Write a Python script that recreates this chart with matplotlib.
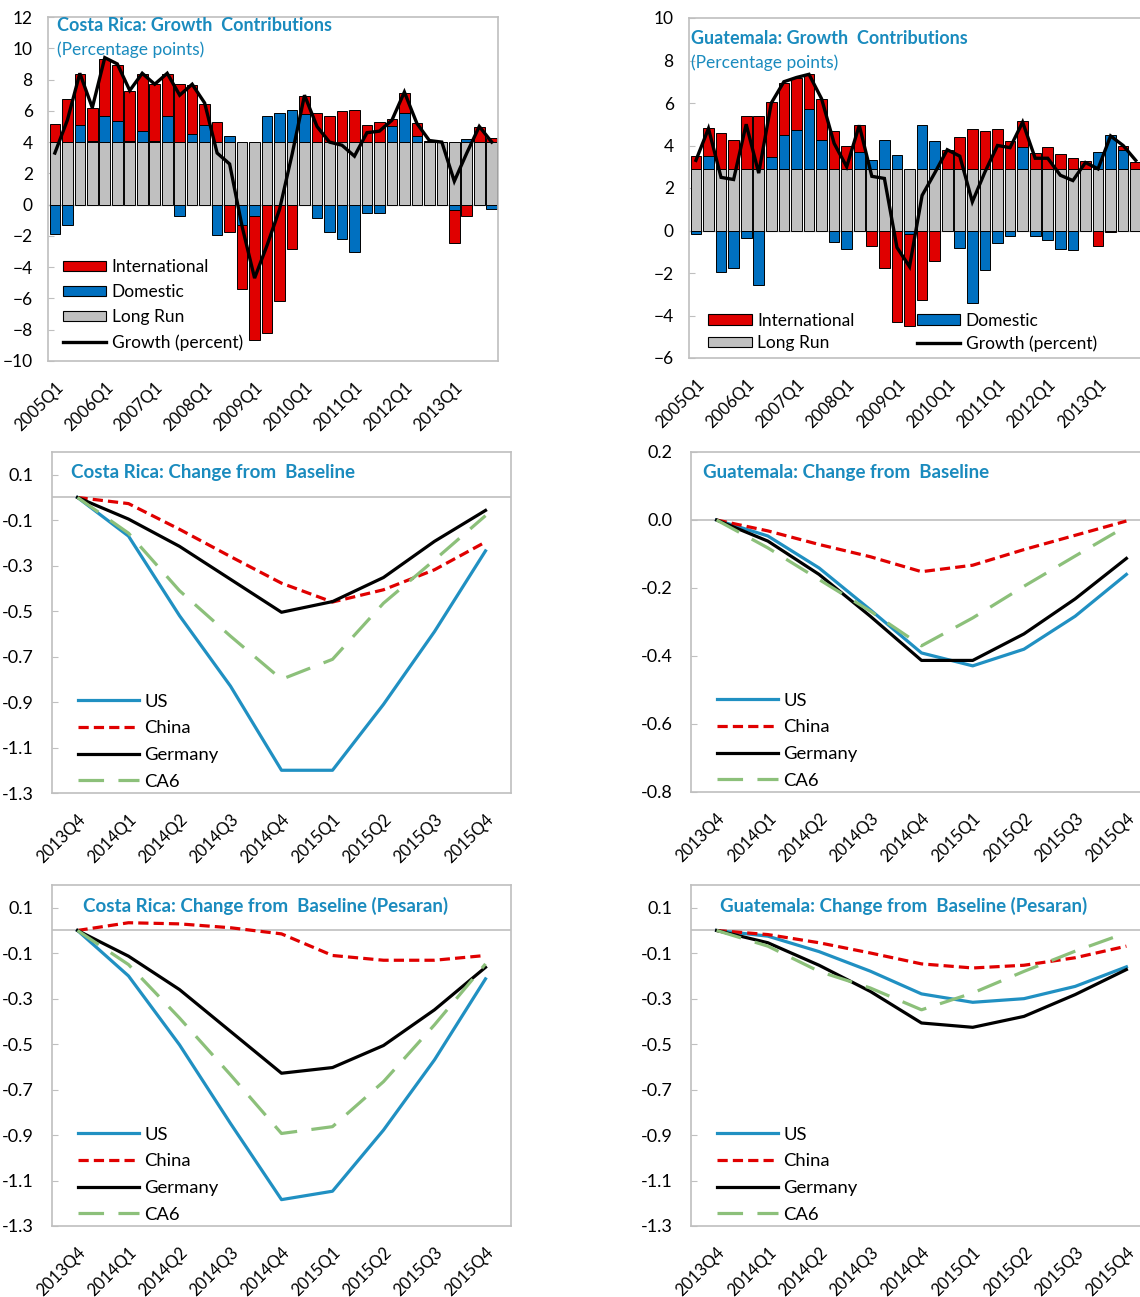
import matplotlib
matplotlib.use("Agg")
import matplotlib.pyplot as plt
from matplotlib.patches import Patch
from matplotlib.lines import Line2D
import numpy as np

plt.rcParams['font.family'] = ['Lato', 'DejaVu Sans']

W, H = 1140, 1297

# ---- growth contributions data (2005Q1 .. 2013Q4) ----
quarters = [f"{y}Q{q}" for y in range(2005, 2014) for q in range(1, 5)]

cr_long_run = 4.0
cr_domestic = [-1.9, -1.3, 1.1, 0.05, 1.7, 1.34, 0.05, 0.68, 0.08, 1.7, -0.7, 0.49,
               1.09, -1.96, 0.36, -1.3, -0.71, 1.64, 1.85, 2.07, 1.8, -0.86, -1.72, -2.2,
               -3.0, -0.54, -0.54, 1.0, 1.85, 0.36, -0.05, -0.05, -0.35, 0.2, 0.0, -0.26]
cr_international = [1.13, 2.73, 3.23, 2.1, 3.64, 3.6, 3.2, 3.7, 3.66, 2.68, 3.74, 3.18,
                    1.36, 1.28, -1.78, -4.08, -7.94, -8.2, -6.17, -2.86, 1.12, 1.85, 1.7, 1.96,
                    2.07, 1.1, 1.26, 0.45, 1.29, 0.85, 0.1, 0.03, -2.1, -0.75, 0.96, 0.27]
cr_growth = [3.3, 5.4, 8.4, 6.2, 9.4, 9.0, 7.3, 8.4, 7.7, 8.4, 7.0, 7.7,
             6.5, 3.3, 2.6, -1.4, -4.7, -2.6, -0.3, 3.2, 7.0, 5.0, 4.0, 3.8,
             3.1, 4.6, 4.7, 5.4, 7.2, 5.2, 4.1, 4.0, 1.5, 3.3, 5.0, 4.0]

gt_long_run = 2.88
gt_domestic = [-0.16, 0.62, -1.97, -1.76, -0.36, -2.57, 0.56, 1.61, 1.87, 2.84, 1.36, -0.52,
               -0.87, 0.81, 0.44, 1.36, 0.66, -0.15, 2.07, 1.32, 0.0, -0.82, -3.4, -1.84,
               -0.6, -0.28, 1.03, -0.28, -0.47, -0.87, -0.94, 0.0, 0.81, 1.63, 0.92, 0.0]
gt_international = [0.61, 1.34, 1.69, 1.36, 2.52, 2.52, 2.61, 2.47, 2.44, 1.64, 1.96, 1.8,
                     1.1, 1.29, -0.74, -1.76, -4.3, -4.34, -3.26, -1.45, 0.92, 1.5, 1.9, 1.8,
                     1.88, 1.33, 1.23, 0.78, 1.03, 0.72, 0.53, 0.39, -0.74, -0.05, 0.2, 0.34]
gt_growth = [3.3, 4.8, 2.5, 2.4, 5.0, 2.7, 6.0, 7.0, 7.2, 7.35, 6.2, 4.1,
             3.0, 4.95, 2.55, 2.45, -0.8, -1.7, 1.65, 2.7, 3.8, 3.5, 1.35, 2.75,
             4.0, 3.9, 5.1, 3.4, 3.4, 2.6, 2.35, 3.2, 2.9, 4.45, 4.0, 3.3]

# ---- change from baseline data (2013Q4 .. 2015Q4) ----
sim_quarters = ["2013Q4", "2014Q1", "2014Q2", "2014Q3", "2014Q4",
                "2015Q1", "2015Q2", "2015Q3", "2015Q4"]

cr_us = [0, -0.17, -0.52, -0.83, -1.20, -1.20, -0.91, -0.59, -0.235]
cr_china = [0, -0.027, -0.14, -0.26, -0.377, -0.46, -0.406, -0.318, -0.196]
cr_germany = [0, -0.095, -0.215, -0.36, -0.505, -0.458, -0.352, -0.193, -0.057]
cr_ca6 = [0, -0.157, -0.41, -0.61, -0.80, -0.712, -0.465, -0.275, -0.08]

gt_us = [0, -0.047, -0.141, -0.264, -0.391, -0.429, -0.38, -0.283, -0.16]
gt_china = [0, -0.032, -0.072, -0.108, -0.152, -0.133, -0.087, -0.045, -0.003]
gt_germany = [0, -0.062, -0.16, -0.283, -0.413, -0.413, -0.335, -0.232, -0.113]
gt_ca6 = [0, -0.082, -0.175, -0.268, -0.37, -0.288, -0.195, -0.106, -0.018]

crp_us = [0, -0.2, -0.503, -0.849, -1.184, -1.147, -0.878, -0.569, -0.213]
crp_china = [0, 0.034, 0.029, 0.012, -0.015, -0.11, -0.131, -0.131, -0.11]
crp_germany = [0, -0.113, -0.26, -0.444, -0.628, -0.603, -0.506, -0.349, -0.162]
crp_ca6 = [0, -0.15, -0.385, -0.635, -0.893, -0.863, -0.665, -0.415, -0.147]

gtp_us = [0, -0.025, -0.093, -0.179, -0.279, -0.316, -0.30, -0.246, -0.16]
gtp_china = [0, -0.018, -0.054, -0.099, -0.147, -0.165, -0.153, -0.12, -0.069]
gtp_germany = [0, -0.054, -0.153, -0.268, -0.407, -0.426, -0.378, -0.282, -0.172]
gtp_ca6 = [0, -0.069, -0.18, -0.253, -0.349, -0.275, -0.18, -0.091, -0.01]

RED = '#E00000'
BLUE = '#0070C0'
GRAY = '#C0C0C0'
FRAME = '#BFBFBF'
TITLE = '#1A8BBE'
US_C = '#2090C2'
CA6_C = '#8CC07A'

fig = plt.figure(figsize=(W / 100, H / 100), dpi=100)


def box(l, r, t, b):
    return [l / W, 1 - b / H, (r - l) / W, (b - t) / H]


def style(ax, ysize, ypad, xpad):
    for s in ax.spines.values():
        s.set_color(FRAME)
        s.set_linewidth(1.2)
    ax.tick_params(axis='y', direction='in', length=4, color=FRAME, labelsize=ysize, pad=ypad)
    ax.tick_params(axis='x', length=0, labelsize=12, pad=xpad)


def contrib(ax, lr, dom, intl, growth, title, ymin, ymax, tx, ty, sy):
    x = np.arange(len(quarters))
    dom = np.array(dom)
    intl = np.array(intl)
    ax.axhline(0, color=FRAME, lw=1, zorder=0)
    ax.bar(x, lr, width=0.85, color=GRAY, edgecolor='black', lw=0.7, zorder=2)
    dom_bot = np.where(dom >= 0, lr, 0)
    ax.bar(x, dom, bottom=dom_bot, width=0.85, color=BLUE, edgecolor='black', lw=0.7, zorder=2)
    int_bot = np.where(intl >= 0, lr + np.clip(dom, 0, None), np.clip(dom, None, 0))
    ax.bar(x, intl, bottom=int_bot, width=0.85, color=RED, edgecolor='black', lw=0.7, zorder=2)
    ax.plot(x, growth, color='black', lw=2.4, zorder=3, solid_joinstyle='miter')
    ax.set_xlim(-0.55, 35.5)
    ax.set_ylim(ymin, ymax)
    ax.set_yticks(np.arange(ymin, ymax + 1, 2))
    ax.set_xticks(x[::4])
    ax.set_xticklabels(quarters[::4], rotation=45, ha='right', rotation_mode='anchor')
    style(ax, 12.5, 11, 13)
    ax.text(tx, ty, title, transform=ax.transAxes,
            va='center', ha='left', color=TITLE, fontsize=13, fontweight='bold')
    ax.text(tx, sy, '(Percentage points)',
            transform=ax.transAxes, va='center', ha='left', color=TITLE, fontsize=12.5)


def contrib_handles():
    return [Patch(facecolor=RED, edgecolor='black', lw=0.8),
            Patch(facecolor=BLUE, edgecolor='black', lw=0.8),
            Patch(facecolor=GRAY, edgecolor='black', lw=0.8),
            Line2D([], [], color='black', lw=2.4)]


labels4 = ['International', 'Domestic', 'Long Run', 'Growth (percent)']

ax1 = fig.add_axes(box(48, 498, 17, 361))
contrib(ax1, cr_long_run, cr_domestic, cr_international, cr_growth,
        'Costa Rica: Growth  Contributions', -10, 12, 0.02, 0.974, 0.904)
ax1.legend(contrib_handles(), labels4, loc='lower left', bbox_to_anchor=(0.01, 0.0),
           frameon=False, fontsize=12.5, handlelength=2.5, handleheight=0.55,
           handletextpad=0.3, labelspacing=0.52, borderaxespad=0.2)

ax2 = fig.add_axes(box(689, 1142, 18, 358))
contrib(ax2, gt_long_run, gt_domestic, gt_international, gt_growth,
        'Guatemala: Growth  Contributions', -6, 10, 0.004, 0.94, 0.868)
h = contrib_handles()
order = [0, 2, 1, 3]
ax2.legend([h[i] for i in order], [labels4[i] for i in order], loc='lower left',
           bbox_to_anchor=(0.02, -0.012), frameon=False, fontsize=12.5, ncol=2,
           handlelength=2.5, handleheight=0.55, handletextpad=0.3, labelspacing=0.36,
           columnspacing=3.6, borderaxespad=0.2)


def change(ax, us, china, germany, ca6, title, tx, ymin, ymax, yticks, fmt):
    x = np.arange(len(sim_quarters))
    ax.axhline(0, color=FRAME, lw=1.2, zorder=0)
    ax.plot(x, us, color=US_C, lw=2.3, label='US')
    ax.plot(x, china, color=RED, lw=2.3, dashes=(3.2, 1.6), label='China')
    ax.plot(x, germany, color='black', lw=2.3, label='Germany')
    ax.plot(x, ca6, color=CA6_C, lw=2.3, dashes=(8, 4.5), label='CA6')
    ax.set_xlim(-0.5, 8.5)
    ax.set_ylim(ymin, ymax)
    ax.set_yticks(yticks)
    ax.set_yticklabels([fmt.format(v) for v in yticks])
    ax.set_xticks(x)
    ax.set_xticklabels(sim_quarters, rotation=45, ha='right', rotation_mode='anchor')
    style(ax, 13, 13, 13)
    ax.text(tx, 0.94, title, transform=ax.transAxes, va='center', ha='left',
            color=TITLE, fontsize=13.5, fontweight='bold')
    ax.legend(loc='lower left', bbox_to_anchor=(0.04, -0.012), frameon=False, fontsize=13.3,
              handlelength=3.3, handletextpad=0.3, labelspacing=0.58, borderaxespad=0.0)


cr_ticks = [-1.3, -1.1, -0.9, -0.7, -0.5, -0.3, -0.1, 0.1]

ax3 = fig.add_axes(box(52, 511, 452, 793))
change(ax3, cr_us, cr_china, cr_germany, cr_ca6, 'Costa Rica: Change from  Baseline',
       0.041, -1.3, 0.2, cr_ticks, '{:.1f}')

ax4 = fig.add_axes(box(691, 1152, 452, 792))
change(ax4, gt_us, gt_china, gt_germany, gt_ca6, 'Guatemala: Change from  Baseline',
       0.026, -0.8, 0.2, [-0.8, -0.6, -0.4, -0.2, 0.0, 0.2], '{:.1f}')

ax5 = fig.add_axes(box(52, 511, 885, 1226))
change(ax5, crp_us, crp_china, crp_germany, crp_ca6,
       'Costa Rica: Change from  Baseline (Pesaran)', 0.068, -1.3, 0.2, cr_ticks, '{:.1f}')

ax6 = fig.add_axes(box(691, 1152, 885, 1226))
change(ax6, gtp_us, gtp_china, gtp_germany, gtp_ca6,
       'Guatemala: Change from  Baseline (Pesaran)', 0.063, -1.3, 0.2, cr_ticks, '{:.1f}')

fig.savefig('out.png', dpi=100)
